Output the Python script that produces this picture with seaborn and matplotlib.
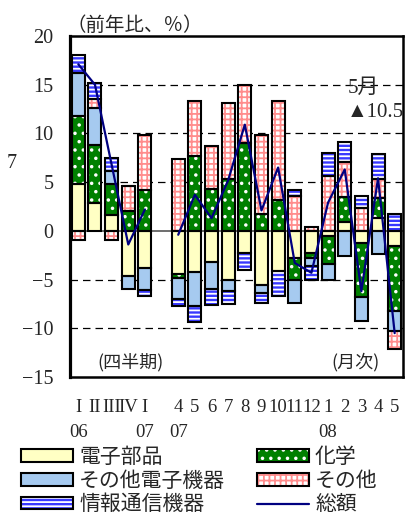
import numpy as np
import pandas as pd
import matplotlib
matplotlib.use("Agg")
import matplotlib.pyplot as plt
from matplotlib.patches import Patch
from matplotlib.lines import Line2D
import seaborn as sns

# Periods: quarterly 2006 I - 2007 I, then monthly 2007/4 - 2008/5
quarter_labels = ["I", "II", "III", "IV", "I"]
quarter_years = ["06", "", "", "", "07"]
month_labels = ["4", "5", "6", "7", "8", "9", "10", "11", "12", "1", "2", "3", "4", "5"]
month_years = ["07", "", "", "", "", "", "", "", "", "08", "", "", "", ""]

# Contributions by product group (percentage points)
electronic_parts = [4.8, 2.9, 1.6, -4.65, -3.8,
                    -4.4, -4.2, -3.2, -5.05, -2.3, -5.6, -4.1, -2.8, -2.25, -0.55, 0.9, -1.2, 1.35, -1.55]
chemicals = [7.0, 5.9, 3.2, 2.0, 4.15,
             -0.4, 7.7, 4.3, 5.3, 9.05, 1.7, 3.2, -2.2, -0.5, -2.9, 2.6, -5.6, 2.05, -6.7]
other_electronics = [4.4, 3.8, 1.3, -1.35, -2.3,
                     -2.2, -3.5, -2.8, -1.15, 0.0, -0.75, 0.0, -2.4, -0.85, -1.6, -2.6, -2.5, -2.4, -2.05]
others = [-0.9, 0.9, -0.9, 2.65, 5.65,
          7.4, 5.6, 4.4, 7.85, 5.95, 8.1, 10.1, 3.6, 0.4, 5.6, 3.55, 2.35, 1.95, -1.8]
telecom = [1.8, 1.7, 1.4, 0.0, -0.6,
           -0.7, -1.7, -1.6, -1.35, -1.75, -1.1, -2.6, 0.55, -1.4, 2.4, 2.05, 1.2, 2.55, 1.7]

# Total, year-on-year %
total_quarterly = [17.1, 15.0, 6.8, -1.4, 2.2]
total_monthly = [-0.4, 3.7, 1.3, 5.2, 10.9, 2.1, 6.5, -3.3, -4.3, 2.9, 6.3, -6.2, 5.4, -10.5]

sns.set_style("white")
plt.rcParams["font.family"] = ["Liberation Serif", "Noto Sans CJK JP"]
plt.rcParams["hatch.linewidth"] = 1.3
plt.rcParams["axes.unicode_minus"] = True

# x positions: one empty slot between the quarterly and monthly blocks
nq, nm = len(quarter_labels), len(month_labels)
positions = np.r_[np.arange(nq), np.arange(nm) + nq + 1]

# (label, values, face colour, hatch, hatch colour) in stacking order
series = [
    ("電子部品", electronic_parts, "#FFFFC4", None, "#FFFFC4"),
    ("化学", chemicals, "#008000", "..", "white"),
    ("その他電子機器", other_electronics, "#A6CAF0", None, "#A6CAF0"),
    ("その他", others, "white", "+++", "#FF8C8C"),
    ("情報通信機器", telecom, "#3838FF", "----", "white"),
]

fig = plt.figure(figsize=(4.16, 5.16), dpi=100)
ax = fig.add_axes([70 / 416, 1 - 377 / 516, 333 / 416, 341 / 516])

pos_base = np.zeros(len(positions))
neg_base = np.zeros(len(positions))
for label, vals, face, hatch, hcol in series:
    v = np.asarray(vals, dtype=float)
    bottom = np.where(v >= 0, pos_base, neg_base)
    df = pd.DataFrame({"x": positions, "v": v})
    common = dict(data=df, x="x", y="v", native_scale=True, orient="x",
                  width=0.78, errorbar=None, ax=ax, bottom=bottom,
                  saturation=1)
    sns.barplot(**common, color=face, facecolor=face, edgecolor=hcol,
                hatch=hatch, linewidth=0, zorder=2)
    sns.barplot(**common, color="black", facecolor="none", edgecolor="black",
                linewidth=1.5, zorder=3)
    pos_base += np.where(v > 0, v, 0)
    neg_base += np.where(v < 0, v, 0)

# Total line, drawn separately for the quarterly and monthly blocks
line_df = pd.DataFrame({
    "x": positions,
    "total": total_quarterly + total_monthly,
    "period": ["q"] * nq + ["m"] * nm,
})
sns.lineplot(data=line_df, x="x", y="total", units="period", estimator=None,
             color="#000080", linewidth=1.6, ax=ax, zorder=4, legend=False)

# Axes styling
ax.set_xlim(-0.5, positions[-1] + 0.5)
ax.set_ylim(-15, 20)
ax.set_yticks(np.arange(-15, 21, 5))
ax.set_xlabel("")
ax.set_ylabel("")
for y in [5, 10, 15, -5, -10]:
    ax.axhline(y, color="black", lw=0.9, ls=(0, (6, 4)), zorder=0.5)
ax.axhline(0, color="#555555", lw=1.2, zorder=1)

tick_text = [f"{a}\n{b}" for a, b in zip(quarter_labels + month_labels,
                                         quarter_years + month_years)]
ax.set_xticks(positions, tick_text)
ax.tick_params(axis="x", length=0, pad=16, labelsize=13.5)
ax.tick_params(axis="y", length=0, pad=12, labelsize=14.5)
for t in ax.get_xticklabels():
    t.set_linespacing(1.62)

for side in ["top", "right", "bottom"]:
    ax.spines[side].set_linewidth(1.8)
    ax.spines[side].set_color("black")
ax.spines["left"].set_linewidth(2.3)
ax.spines["left"].set_color("black")

# Text labels
cjk = ["Noto Sans CJK JP", "DejaVu Sans"]
fig.text(66 / 416, 1 - 25 / 516, "（前年比、％）", family=cjk, fontsize=14,
         va="center", ha="left")
fig.text(7 / 416, 1 - 164 / 516, "7", fontsize=14.5, va="center", ha="left")
ax.text(1.15, -13.5, "(四半期)", family=cjk, fontsize=13, va="center", ha="left")
ax.text(15.2, -13.5, "(月次)", family=cjk, fontsize=13, va="center", ha="left")
ax.text(16.15, 14.6, "5月", fontsize=15, va="center", ha="left")
ax.text(16.15, 12.1, f"▲{abs(total_monthly[-1]):.1f}", fontsize=15,
        va="center", ha="left", clip_on=False)

# Legend
handles, labels = [], []
legend_order = [0, 2, 4, 1, 3]
for i in legend_order:
    label, vals, face, hatch, hcol = series[i]
    handles.append((Patch(facecolor=face, edgecolor=hcol, hatch=hatch, lw=0),
                    Patch(facecolor="none", edgecolor="black", lw=1.5)))
    labels.append(label)
handles.append(Line2D([], [], color="#000080", lw=1.6))
labels.append("総額")
fig.legend(handles, labels, loc="upper left", ncol=2,
           bbox_to_anchor=(21 / 416, 1 - 446 / 516), frameon=False,
           prop={"family": cjk, "size": 15}, handlelength=2.5,
           handleheight=0.55, handletextpad=0.3, columnspacing=1.5,
           labelspacing=0.08, borderpad=0, borderaxespad=0)

fig.savefig("out.png", dpi=100)
